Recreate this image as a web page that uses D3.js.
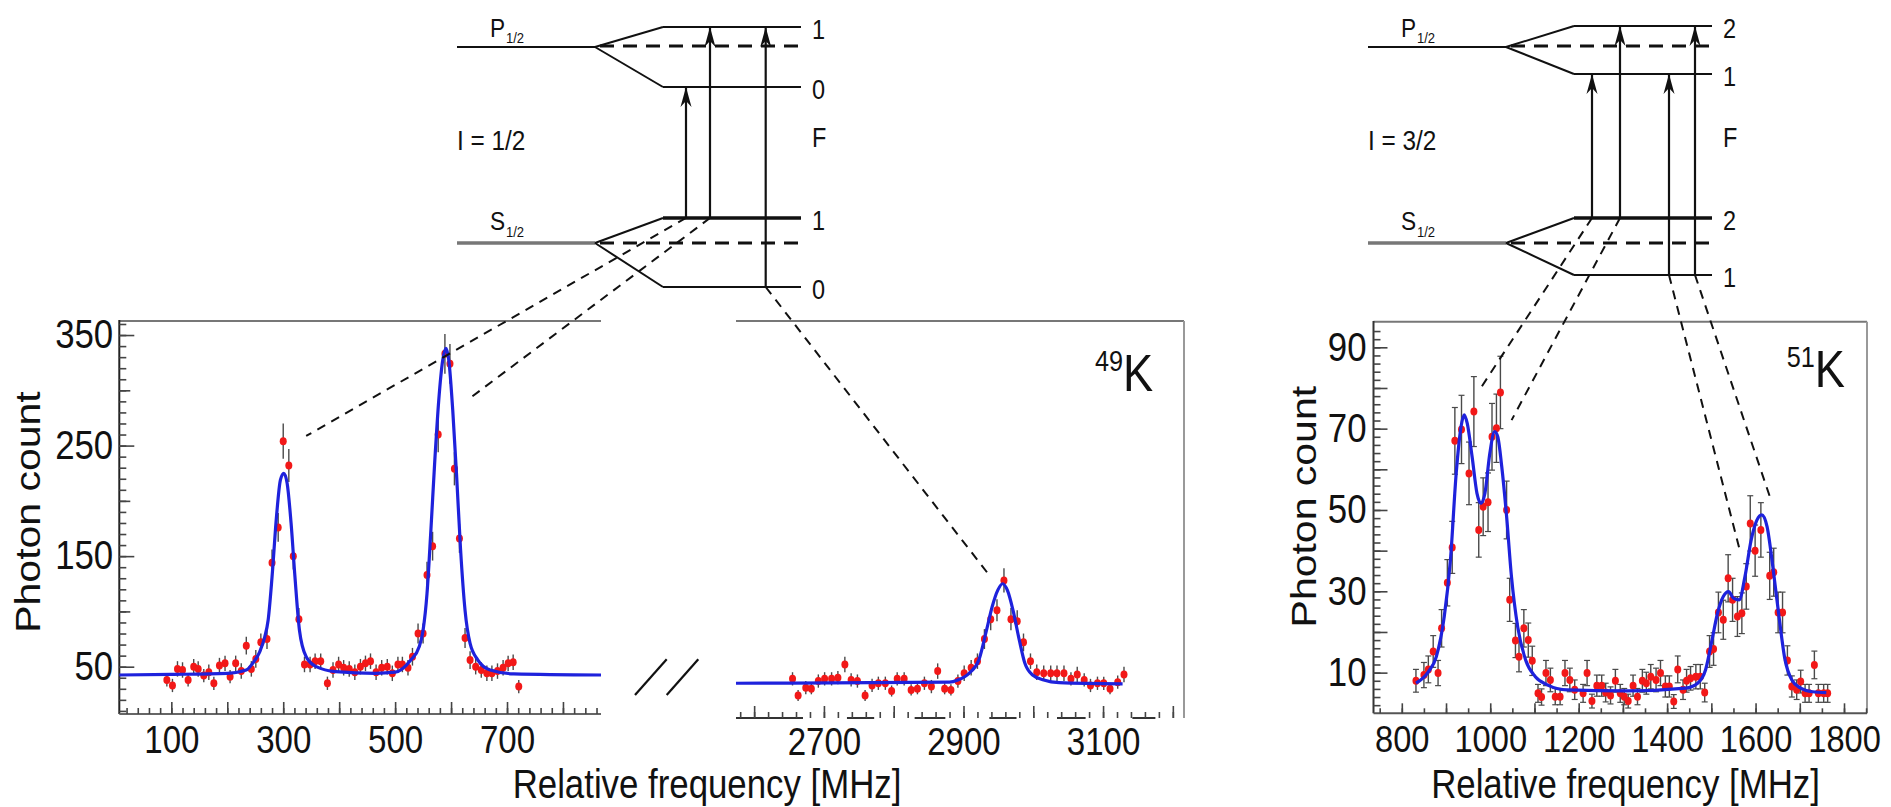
<!DOCTYPE html>
<html><head><meta charset="utf-8">
<script src="https://cdn.jsdelivr.net/npm/d3@7"></script>
<style>
body{margin:0;background:#fff}
svg{display:block}
</style>
</head><body>
<svg id="c" width="1891" height="807"></svg>
<script>
// ---------------- DATA ----------------
// 49K, low-frequency segment
const freqL=[92,102,111,120,130,140,148,158,167,176,186,196,205,215,225,234,243,251,260,271,280,291,300,310,318,328,338,348,357,367,379,389,399,408,418,428,438,447,456,466,476,486,495,505,513,523,531,541,550,557,567,577,589,598,606,615,625,634,644,654,664,673,683,693,702,711,721];
const countL=[38,33,48,47,38,50,48,42,45,35,51,53,41,53,46,69,48,57,72,75,144,176,254,232,150,93,52,52,55,55,35,47,52,49,48,45,50,53,55,45,49,50,44,52,52,49,59,80,80,133,159,260,333,324,229,166,76,56,50,47,44,44,46,49,53,54,32];
const errL=[6,6,7,7,6,7,7,6,7,6,7,7,6,7,7,8,7,8,8,9,12,13,16,15,12,10,7,7,7,7,6,7,7,7,7,7,7,7,7,7,7,7,7,7,7,7,8,9,9,12,13,16,18,18,15,13,9,8,7,7,7,7,7,7,7,7,6];
const fitLfreq=[7,100,200,234,246,258,267,273,280,288,295,301,307,314,321,329,341,359,394,465,500,528,543,550,557,564,571,578,585,591,596,603,610,617,625,634,648,670,712,868];
const fitLcount=[42.5,43,44,47,53.5,63.5,77,92,131,186,219,225,216,180,131,83,59,50,45.5,44,45,56,68,83,116,174,237,291,327,338,327,282,222,156,101,71,56,47,43.5,42.5];
// 49K, high-frequency segment
const freqR=[2655,2663,2674,2682,2692,2701,2711,2720,2730,2739,2748,2759,2769,2778,2788,2797,2805,2815,2825,2834,2844,2854,2863,2873,2882,2892,2901,2911,2920,2930,2939,2948,2958,2968,2977,2986,2996,3005,3015,3025,3034,3044,3054,3063,3073,3082,3092,3101,3110,3121,3130];
const countR=[39,24,31,30,37,39,39,40,52,38,37,24,33,35,35,28,39,39,29,30,35,32,46,30,29,37,44,49,55,75,93,101,128,93,91,72,55,45,44,44,44,44,39,43,38,33,35,35,30,36,43];
const errR=[6,5,6,5,6,6,6,6,7,6,6,5,6,6,6,5,6,6,5,5,6,6,7,5,5,6,7,7,7,9,10,10,11,10,10,8,7,7,7,7,7,7,6,7,6,6,6,6,5,6,7];
const fitRfreq=[2574,2880,2892,2908,2922,2933,2941,2949,2956,2963,2971,2980,2988,2999,3015,3037,3128];
const fitRcount=[35,36,38,44,56,83,104,119,125,119,101,74,53,42.5,38,35.6,34.5];
// 51K
const freq51=[832,850,860,871,882,890,903,914,920,935,952,963,974,984,995,1004,1014,1023,1037,1044,1057,1065,1076,1086,1095,1108,1116,1126,1136,1147,1158,1169,1180,1191,1210,1219,1230,1241,1252,1261,1272,1283,1294,1303,1312,1323,1333,1344,1353,1363,1375,1385,1396,1405,1415,1424,1436,1444,1453,1465,1475,1485,1496,1505,1516,1527,1538,1548,1559,1569,1579,1588,1599,1612,1632,1641,1651,1661,1672,1682,1693,1702,1712,1721,1733,1742,1754,1763];
const count51=[8.0,9.4,10.8,15.2,9.9,20.9,32.1,40.8,67.0,69.8,59.0,74.2,45.1,50.8,51.9,68.0,70.1,78.9,50.0,27.9,17.9,13.9,20.9,18.0,12.9,4.9,4.0,9.9,8.2,4.1,4.1,9.9,8.2,5.8,4.9,9.9,3.0,6.8,6.8,5.1,4.4,8.0,4.9,4.1,3.0,6.8,4.1,8.0,7.4,9.0,8.2,9.9,6.6,6.6,2.9,10.8,5.8,8.0,8.6,9.0,9.0,5.1,15.2,15.8,24.8,23.0,33.2,27.9,23.8,24.6,31.2,46.7,40.0,45.1,33.8,34.7,24.8,24.8,13.0,6.6,5.8,7.8,4.9,4.9,11.9,4.9,4.9,4.9];
const err51=[2.8,3.1,3.3,3.9,3.1,4.6,5.7,6.4,8.2,8.4,7.7,8.6,6.7,7.1,7.2,8.2,8.4,8.9,7.1,5.3,4.2,3.7,4.6,4.2,3.6,2.2,2.0,3.1,2.9,2.0,2.0,3.1,2.9,2.4,2.2,3.1,1.7,2.6,2.6,2.3,2.1,2.8,2.2,2.0,1.7,2.6,2.0,2.8,2.7,3.0,2.9,3.1,2.6,2.6,1.7,3.3,2.4,2.8,2.9,3.0,3.0,2.3,3.9,4.0,5.0,4.8,5.8,5.3,4.9,5.0,5.6,6.8,6.3,6.7,5.8,5.9,5.0,5.0,3.6,2.6,2.4,2.8,2.2,2.2,3.4,2.2,2.2,2.2];
const fit51freq=[832,860,878,896,910,923,934,941,948,959,970,979,988,999,1010,1017,1026,1037,1048,1062,1080,1102,1129,1174,1308,1442,1469,1487,1500,1514,1527,1539,1550,1563,1576,1590,1603,1614,1626,1639,1653,1666,1682,1702,1729,1760];
const fit51count=[7.4,10.2,13.9,23.8,37.7,59,70.5,73.4,71.3,63.1,54.1,51.6,54.1,63.9,69.3,68,60.7,48.4,33.6,21.3,13.1,9,7,5.75,5.5,6.2,7.4,10.7,17.2,24.6,28.7,29.9,28.3,27.9,33.6,42.6,47.5,48.8,45.9,36.1,23.8,13.5,8.2,6.2,5.3,5.1];
// tick labels
const xLabelsL=[100,300,500,700];
const xLabelsR=[2700,2900,3100];
const yLabels49=[50,150,250,350];
const xLabels51=[800,1000,1200,1400,1600,1800];
const yLabels51=[10,30,50,70,90];
// broken baseline pieces of the high-frequency segment [MHz]
const axisPiecesR=[[2574,2670],[2733,2772],[2830,2874],[2937,2976],[3034,3075],[3142,3175]];
// links from transitions to peaks: [diagram x, diagram y, peak freq, peak count]
const links49L=[[686,218,341,258.7],[710,218,631,291.9]];
const links49R=[[765.7,287,2938.6,131.4]];
const links51=[[1592,218,976.8,79.7],[1620,218,1048.3,72.1],[1669,275,1563.2,40.6],[1695,275,1632.2,53.3]];

// ---------------- SETUP ----------------
const FONT='"Liberation Sans", Arial, Helvetica, sans-serif';
const SX=0.87;
const svg=d3.select("#c");
const BLUE="#1e22dc", RED="#f21818";

const xL=d3.scaleLinear().domain([7,868]).range([119.3,601]);
const xR=d3.scaleLinear().domain([2574,3216]).range([736,1184]);
const y49=d3.scaleLinear().domain([7.2,362.7]).range([714,321]);
const x51=d3.scaleLinear().domain([736,1852]).range([1373.5,1867]);
const y51=d3.scaleLinear().domain([0,96.3]).range([713.3,321.7]);

function txt(g,x,y,s,size,anchor,rot){
  rot=rot||0;
  const t=g.append("text")
    .attr("transform",`translate(${x},${y}) rotate(${rot}) scale(${rot?1:SX},${rot?SX:1})`)
    .attr("font-family",FONT).attr("font-size",size).attr("fill","#111")
    .attr("text-anchor",anchor||"start").text(s);
  return t;
}
function seg(g,x1,y1,x2,y2,color,w,dash){
  const l=g.append("line").attr("x1",x1).attr("y1",y1).attr("x2",x2).attr("y2",y2)
    .attr("stroke",color).attr("stroke-width",w);
  if(dash) l.attr("stroke-dasharray",dash);
  return l;
}
function ticksX(g,scale,y,values,len,color){
  g.append("g").attr("transform",`translate(0,${y})`)
   .call(d3.axisBottom(scale).tickValues(values).tickSize(-len).tickSizeOuter(0).tickFormat(""))
   .call(a=>a.select(".domain").remove())
   .call(a=>a.selectAll("line").attr("stroke",color).attr("stroke-width",1.6));
}
function ticksY(g,scale,x,values,len,color){
  g.append("g").attr("transform",`translate(${x},0)`)
   .call(d3.axisLeft(scale).tickValues(values).tickSize(-len).tickSizeOuter(0).tickFormat(""))
   .call(a=>a.select(".domain").remove())
   .call(a=>a.selectAll("line").attr("stroke",color).attr("stroke-width",1.6));
}
function labelsX(g,scale,y,values,size,pad){
  g.append("g").attr("transform",`translate(0,${y})`)
   .call(d3.axisBottom(scale).tickValues(values).tickSize(0).tickPadding(pad).tickFormat(d3.format("d")))
   .call(a=>a.select(".domain").remove())
   .call(a=>a.selectAll("text").attr("font-size",size).attr("font-family",FONT).attr("fill","#111")
      .attr("transform",`scale(${SX},1)`));
}
function labelsY(g,scale,x,values,size,pad){
  g.append("g").attr("transform",`translate(${x},0)`)
   .call(d3.axisLeft(scale).tickValues(values).tickSize(0).tickPadding(pad).tickFormat(d3.format("d")))
   .call(a=>a.select(".domain").remove())
   .call(a=>a.selectAll("text").attr("font-size",size).attr("font-family",FONT).attr("fill","#111")
      .attr("transform",`scale(${SX},1)`));
}
function zip(a,b){return a.map((v,i)=>[v,b[i]]);}
function drawSeries(g,xs,ys,freqs,counts,errs,caps){
  const pts=freqs.map((f,i)=>({f:f,c:counts[i],e:errs[i]}));
  g.append("g").selectAll("line").data(pts).join("line")
    .attr("x1",d=>xs(d.f)).attr("x2",d=>xs(d.f))
    .attr("y1",d=>ys(d.c-d.e)).attr("y2",d=>ys(d.c+d.e))
    .attr("stroke","#4a4a4a").attr("stroke-width",1.4);
  if(caps){
    [0,1].forEach(j=>{
      g.append("g").selectAll("line").data(pts).join("line")
        .attr("x1",d=>xs(d.f)-3).attr("x2",d=>xs(d.f)+3)
        .attr("y1",d=>ys(j? d.c+d.e : d.c-d.e)).attr("y2",d=>ys(j? d.c+d.e : d.c-d.e))
        .attr("stroke","#4a4a4a").attr("stroke-width",1.2);
    });
  }
  g.append("g").selectAll("ellipse").data(pts).join("ellipse")
    .attr("cx",d=>xs(d.f)).attr("cy",d=>ys(d.c)).attr("rx",3.5).attr("ry",4).attr("fill",RED);
}
function drawFit(g,xs,ys,fx,fy){
  g.append("path").datum(zip(fx,fy))
    .attr("d",d3.line().x(d=>xs(d[0])).y(d=>ys(d[1])).curve(d3.curveMonotoneX))
    .attr("fill","none").attr("stroke",BLUE).attr("stroke-width",3.2);
}

// ---------------- 49K PANEL ----------------
const p49=svg.append("g");
seg(p49,119.3,321,601,321,"#777",2);
seg(p49,736,321,1184,321,"#777",2);
seg(p49,1184,321,1184,718,"#999",2);
seg(p49,119.3,320,119.3,714,"#222",2);
seg(p49,119.3,714,601,714,"#666",2);
axisPiecesR.forEach(p=>seg(p49,xR(p[0]),718,xR(p[1]),718,"#333",2));
ticksX(p49,xL,714,d3.range(20,861,20),6,"#444");
ticksX(p49,xL,714,d3.range(100,861,100),12,"#444");
ticksX(p49,xR,718,d3.range(2580,3216,20),6,"#444");
ticksX(p49,xR,718,d3.range(2600,3216,100),12,"#444");
ticksY(p49,y49,119.3,d3.range(10,362,10),7,"#444");
ticksY(p49,y49,119.3,[100,200,300],11,"#444");
ticksY(p49,y49,119.3,yLabels49,15,"#444");
labelsX(p49,xL,714,xLabelsL,38,12.5);
labelsX(p49,xR,718,xLabelsR,38,10);
labelsY(p49,y49,119.3,yLabels49,40,7);
seg(p49,635,695,666.7,659.3,"#111",2.2);
seg(p49,666.7,695,698.3,659.3,"#111",2.2);
drawSeries(p49,xL,y49,freqL,countL,errL,false);
drawSeries(p49,xR,y49,freqR,countR,errR,false);
drawFit(p49,xL,y49,fitLfreq,fitLcount);
drawFit(p49,xR,y49,fitRfreq,fitRcount);
txt(p49,707,798,"Relative frequency [MHz]",40,"middle");
txt(p49,39.5,512,"Photon count",41,"middle",-90);
{
  const t=p49.append("text").attr("transform",`translate(1095,390.7) scale(${SX},1)`)
    .attr("font-family",FONT).attr("fill","#111");
  t.append("tspan").attr("font-size",29).attr("dy",-20).text("49");
  t.append("tspan").attr("font-size",52).attr("dy",20).text("K");
}

// ---------------- 51K PANEL ----------------
const p51=svg.append("g");
seg(p51,1373.5,321.7,1867,321.7,"#777",2);
seg(p51,1867,321.7,1867,713.3,"#999",2);
seg(p51,1373.5,321,1373.5,713.3,"#333",2);
seg(p51,1373.5,713.3,1867,713.3,"#555",2);
ticksX(p51,x51,713.3,d3.range(750,1852,50),5,"#444");
ticksX(p51,x51,713.3,d3.range(800,1852,100),10,"#444");
ticksY(p51,y51,1373.5,d3.range(2,96,2),7,"#444");
ticksY(p51,y51,1373.5,d3.range(10,96,10),14,"#444");
labelsX(p51,x51,713.3,xLabels51,37.5,12.5);
labelsY(p51,y51,1373.5,yLabels51,40,8);
drawSeries(p51,x51,y51,freq51,count51,err51,true);
drawFit(p51,x51,y51,fit51freq,fit51count);
txt(p51,1625.5,798,"Relative frequency [MHz]",40,"middle");
txt(p51,1315.5,506.7,"Photon count",41,"middle",-90);
{
  const t=p51.append("text").attr("transform",`translate(1786.8,387) scale(${SX},1)`)
    .attr("font-family",FONT).attr("fill","#111");
  t.append("tspan").attr("font-size",29).attr("dy",-20).text("51");
  t.append("tspan").attr("font-size",52).attr("dy",20).text("K");
}

// ---------------- LEVEL DIAGRAMS ----------------
const defs=svg.append("defs");
defs.append("marker").attr("id","ah").attr("viewBox","-22 -6 24 12").attr("refX",0).attr("refY",0)
  .attr("markerWidth",24).attr("markerHeight",12).attr("markerUnits","userSpaceOnUse").attr("orient","auto")
  .append("path").attr("d","M0,0 L-20,-5.5 L-14,0 L-20,5.5 Z").attr("fill","#111");

function diagram(g,x0,labelsP,labelsS,iText,pY,sY,arrows){
  const xs=x0+138, xe=x0+206, xf=x0+344, xd0=x0+143, xd1=x0+346;
  seg(g,x0,47,xs,47,"#111",2);
  seg(g,xs,47,xe,pY[0],"#111",2);
  seg(g,xs,47,xe,pY[1],"#111",2);
  seg(g,xe,pY[0],xf,pY[0],"#111",2);
  seg(g,xe,pY[1],xf,pY[1],"#111",2);
  seg(g,xd0,46,xd1,46,"#111",3,"14,9");
  seg(g,x0,243,xs,243,"#777",3.5);
  seg(g,xs,243,xe,sY[0],"#111",2);
  seg(g,xs,243,xe,sY[1],"#111",2);
  seg(g,xe,sY[0],xf,sY[0],"#111",3.5);
  seg(g,xe,sY[1],xf,sY[1],"#111",2);
  seg(g,xd0,243,xd1,243,"#111",3,"14,9");
  arrows.forEach(a=>seg(g,a[0],a[1],a[0],a[2],"#111",2.2).attr("marker-end","url(#ah)"));
  const xl=xf+11;
  txt(g,xl,pY[0]+12,labelsP[0],27);
  txt(g,xl,pY[1]+12,labelsP[1],27);
  txt(g,xl,147,"F",27);
  txt(g,xl,sY[0]+12,labelsS[0],27);
  txt(g,xl,sY[1]+12,labelsS[1],27);
  txt(g,x0,150,iText,28);
  txt(g,x0+33,37,"P",26);
  txt(g,x0+49,43,"1/2",15);
  txt(g,x0+33,230,"S",26);
  txt(g,x0+49,237,"1/2",15);
}
const dg=svg.append("g");
diagram(dg,457,["1","0"],["1","0"],"I = 1/2",[27,87],[218,287],
  [[686,218,87],[710,218,27],[765.7,287,27]]);
diagram(dg,1368,["2","1"],["2","1"],"I = 3/2",[26,74],[218,275],
  [[1592,218,74],[1620,218,26],[1669,275,74],[1695,275,26]]);

const lk=svg.append("g");
links49L.forEach(l=>seg(lk,l[0],l[1],xL(l[2]),y49(l[3]),"#111",2,"9,7"));
links49R.forEach(l=>seg(lk,l[0],l[1],xR(l[2]),y49(l[3]),"#111",2,"9,7"));
links51.forEach(l=>seg(lk,l[0],l[1],x51(l[2]),y51(l[3]),"#111",2,"9,7"));
</script>
</body></html>
